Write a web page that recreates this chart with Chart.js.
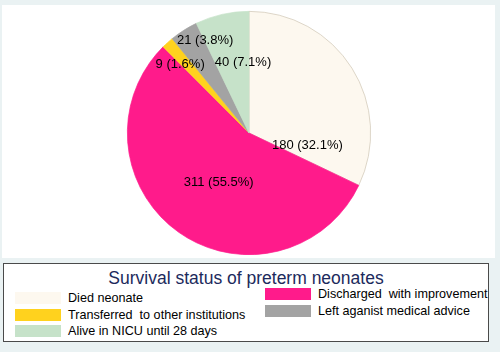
<!DOCTYPE html>
<html>
<head>
<meta charset="utf-8">
<script src="https://cdn.jsdelivr.net/npm/chart.js@4/dist/chart.umd.min.js"></script>
<style>
    body { margin: 0; background: #eaf2f3; font-family: "Liberation Sans", Arial, sans-serif; }
    #wrap { position: relative; width: 500px; height: 352px; }
    #plot { position: absolute; left: 2px; top: 5px; width: 493px; height: 253px; background: #fff; }
    #myPie { position: absolute; left: 0; top: 0; }
    #legendBox { position: absolute; left: 3px; top: 263px; width: 484px; height: 77px;
        background: #fff; border: 1px solid #4a4a4a; }
    #legendTitle { position: absolute; left: 0; width: 100%; top: 4px; text-align: center;
        font-size: 17.5px; color: #1c2a5c; }
    .item { position: absolute; height: 14px; font-size: 12.6px; line-height: 14px; color: #000; white-space: pre; }
    .swatch { position: absolute; left: 0; top: 1px; width: 46px; height: 12px; }
    .item span { position: absolute; left: 53px; top: 0; }
</style>
</head>
<body>
<div id="wrap">
    <div id="plot"></div>
    <canvas id="myPie" width="500" height="352"></canvas>
    <div id="legendBox"><div id="legendTitle">Survival status of preterm neonates</div></div>
</div>
<script>
const categories = ['Died neonate', 'Discharged  with improvement', 'Transferred  to other institutions',
    'Left aganist medical advice', 'Alive in NICU until 28 days'];
const counts = [180, 311, 9, 21, 40];
const percents = ['32.1', '55.5', '1.6', '3.8', '7.1'];
const sliceColors = ['#fdf8ef', '#ff1b8b', '#ffd21e', '#a3a3a3', '#c6e2c9'];
const edgeColors = ['#cfc6b4', '#ff1b8b', '#ffd21e', '#a3a3a3', '#c6e2c9'];

// where each value label sits: shift from slice middle (degrees) and fraction of radius
const labelShift = [44, -4, -3, 7, 8];
const labelRadius = [0.49, 0.48, 0.80, 0.84, 0.58];

const sliceLabels = {
    id: 'sliceLabels',
    afterDatasetsDraw(chart) {
        const ctx = chart.ctx;
        ctx.save();
        ctx.font = '13px "Liberation Sans", Arial, sans-serif';
        ctx.fillStyle = '#000';
        ctx.textAlign = 'center';
        ctx.textBaseline = 'middle';
        chart.getDatasetMeta(0).data.forEach(function (arc, i) {
            const p = arc.getProps(['x', 'y', 'startAngle', 'endAngle', 'outerRadius'], true);
            const mid = (p.startAngle + p.endAngle) / 2 + labelShift[i] * Math.PI / 180;
            const r = p.outerRadius * labelRadius[i];
            ctx.fillText(counts[i] + ' (' + percents[i] + '%)', p.x + Math.cos(mid) * r, p.y + Math.sin(mid) * r);
        });
        ctx.restore();
    }
};

const ctx = document.getElementById('myPie').getContext('2d');
new Chart(ctx, {
    type: 'pie',
    data: {
        labels: categories,
        datasets: [{
            data: counts,
            backgroundColor: sliceColors,
            borderColor: edgeColors,
            borderWidth: 0.7
        }]
    },
    options: {
        responsive: false,
        animation: false,
        layout: { padding: { top: 11, bottom: 97, left: 0, right: 2 } },
        plugins: {
            legend: { display: false },
            tooltip: { enabled: false }
        }
    },
    plugins: [sliceLabels]
});

// legend in two columns, second column sits slightly higher
const legendBox = document.getElementById('legendBox');
const colLeft = [11, 261];
const colTop = [27, 23];
const rowStep = 16.7;
categories.forEach(function (name, i) {
    const col = i % 2, row = Math.floor(i / 2);
    const item = document.createElement('div');
    item.className = 'item';
    item.style.left = colLeft[col] + 'px';
    item.style.top = (colTop[col] + row * rowStep) + 'px';
    item.innerHTML = '<div class="swatch" style="background:' + sliceColors[i] + '"></div><span></span>';
    item.querySelector('span').textContent = name;
    legendBox.appendChild(item);
});
</script>
</body>
</html>
